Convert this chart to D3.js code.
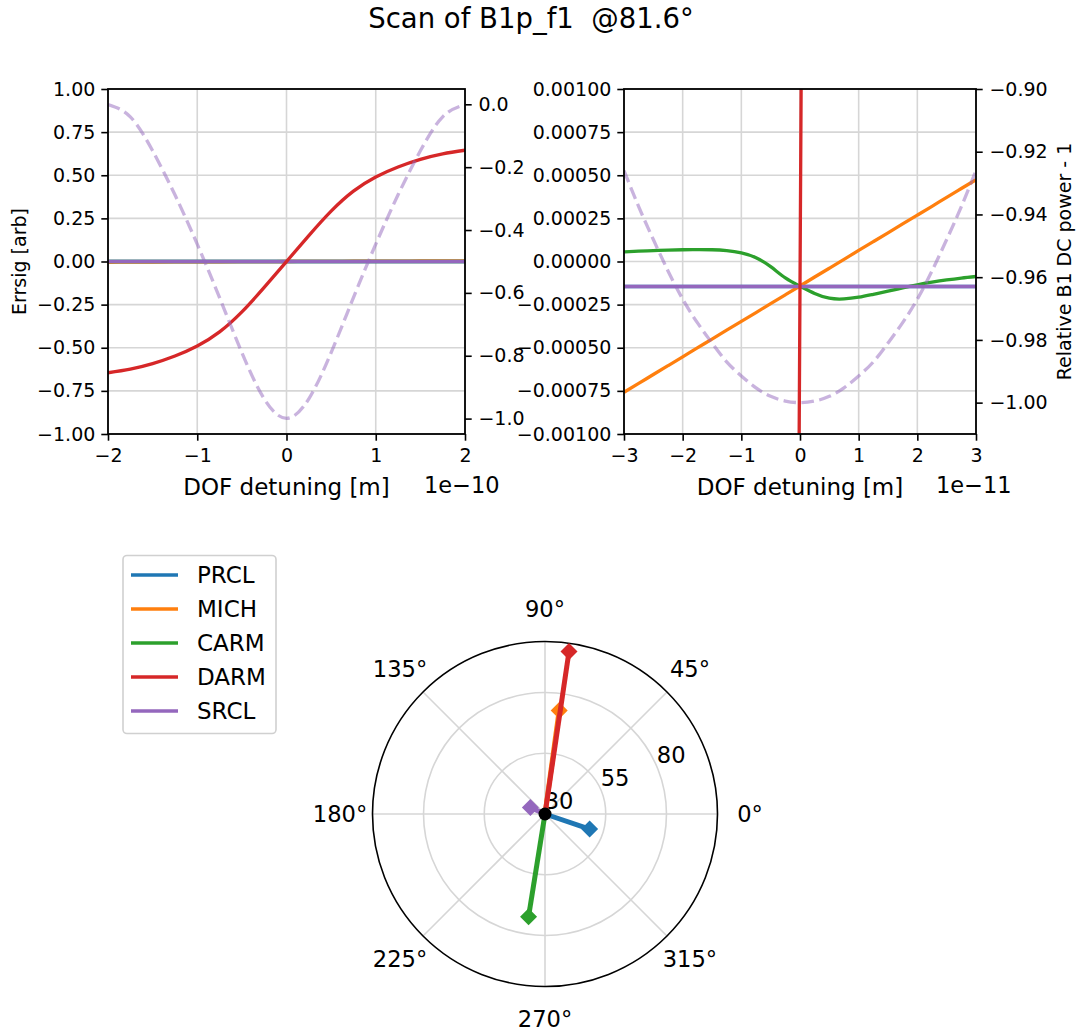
<!DOCTYPE html>
<html><head><meta charset="utf-8">
<script src="https://cdn.jsdelivr.net/npm/d3@7"></script>
<style>
body{margin:0;background:#fff}
text{font-family:"DejaVu Sans",sans-serif;fill:#000}
</style>
</head><body>
<svg id="c" width="1079" height="1032" xmlns="http://www.w3.org/2000/svg"></svg>
<script>
// ---------------- data ----------------
const titleText = "Scan of B1p_f1  @81.6°";
const dofNames = ["PRCL", "MICH", "CARM", "DARM", "SRCL"];
const dofColors = ["#1f77b4", "#ff7f0e", "#2ca02c", "#d62728", "#9467bd"];
const drawOrder = ["PRCL", "MICH", "CARM", "SRCL", "DARM"];

// left scan, x in units of 1e-10 m
const xLeft = [-2, -1.75, -1.5, -1.25, -1, -0.75, -0.5, -0.25, 0, 0.25, 0.5, 0.75, 1, 1.25, 1.5, 1.75, 2];
const prclLeft = [-0.00014, -0.00014, -0.00014, -0.00014, -0.00014, -0.00014, -0.00014, -0.00014, -0.00014, -0.00014, -0.00014, -0.00014, -0.00014, -0.00014, -0.00014, -0.00014, -0.00014];
const michLeft = [-0.0042, -0.0037, -0.0032, -0.0027, -0.0022, -0.0017, -0.0012, -0.0007, -0.0001, 0.0004, 0.0009, 0.0014, 0.0019, 0.0024, 0.0029, 0.0034, 0.0039];
const carmLeft = [0.00006, 0.00006, 0.00006, 0.00006, 0.00006, 0.00006, 0.00006, 0.00007, -0.00014, -0.00008, -0.00008, -0.00008, -0.00008, -0.00008, -0.00008, -0.00008, -0.00008];
const darmLeft = [-0.645, -0.624, -0.592, -0.548, -0.490, -0.408, -0.292, -0.150, 0.0, 0.150, 0.292, 0.408, 0.490, 0.548, 0.592, 0.624, 0.645];
const srclLeft = [-0.00014, -0.00014, -0.00014, -0.00014, -0.00014, -0.00014, -0.00014, -0.00014, -0.00014, -0.00014, -0.00014, -0.00014, -0.00014, -0.00014, -0.00014, -0.00014, -0.00014];
const powerLeft = [-0.001, -0.040, -0.148, -0.288, -0.445, -0.615, -0.790, -0.937, -0.999, -0.937, -0.790, -0.615, -0.445, -0.288, -0.148, -0.040, -0.001];

// right scan, x in units of 1e-11 m
const xRight = [-3, -2.75, -2.5, -2.25, -2, -1.75, -1.5, -1.25, -1, -0.75, -0.5, -0.25, 0, 0.25, 0.5, 0.75, 1, 1.25, 1.5, 1.75, 2, 2.25, 2.5, 2.75, 3];
const prclRight = [-0.000145, -0.000145, -0.000145, -0.000145, -0.000145, -0.000145, -0.000145, -0.000145, -0.000145, -0.000145, -0.000145, -0.000145, -0.000145, -0.000145, -0.000145, -0.000145, -0.000145, -0.000145, -0.000145, -0.000145, -0.000145, -0.000145, -0.000145, -0.000145, -0.000145];
const michRight = [-0.000758, -0.000707, -0.000655, -0.000604, -0.000553, -0.000501, -0.000450, -0.000398, -0.000347, -0.000296, -0.000244, -0.000193, -0.000142, -0.000090, -0.000039, 0.000012, 0.000064, 0.000115, 0.000166, 0.000218, 0.000269, 0.000320, 0.000372, 0.000423, 0.000474];
const carmRight = [0.000056, 0.000060, 0.000063, 0.000066, 0.000068, 0.000069, 0.000068, 0.000063, 0.000050, 0.000022, -0.000030, -0.000095, -0.000143, -0.000185, -0.000213, -0.000217, -0.000207, -0.000190, -0.000172, -0.000153, -0.000135, -0.000120, -0.000107, -0.000096, -0.000087];
const darmRight = [-0.177, -0.163, -0.148, -0.134, -0.119, -0.104, -0.089, -0.075, -0.060, -0.045, -0.030, -0.0151, -0.00014, 0.0148, 0.0297, 0.0447, 0.0597, 0.0747, 0.0887, 0.1037, 0.1187, 0.1337, 0.1477, 0.1627, 0.1767];
const srclRight = [-0.000145, -0.000145, -0.000145, -0.000145, -0.000145, -0.000145, -0.000145, -0.000145, -0.000145, -0.000145, -0.000145, -0.000145, -0.000145, -0.000145, -0.000145, -0.000145, -0.000145, -0.000145, -0.000145, -0.000145, -0.000145, -0.000145, -0.000145, -0.000145, -0.000145];
const powerRight = [-0.926, -0.9375, -0.948, -0.958, -0.967, -0.9745, -0.981, -0.987, -0.9915, -0.9953, -0.998, -0.9995, -1.000, -0.9995, -0.998, -0.9953, -0.9915, -0.987, -0.981, -0.9745, -0.967, -0.958, -0.948, -0.9375, -0.926];

// tick values
const xTicksLeft = [-2, -1, 0, 1, 2];
const yTicksLeft = [-1, -0.75, -0.5, -0.25, 0, 0.25, 0.5, 0.75, 1];
const y2TicksLeft = [-1.0, -0.8, -0.6, -0.4, -0.2, 0.0];
const xTicksRight = [-3, -2, -1, 0, 1, 2, 3];
const yTicksRight = [-0.001, -0.00075, -0.0005, -0.00025, 0, 0.00025, 0.0005, 0.00075, 0.001];
const y2TicksRight = [-1.00, -0.98, -0.96, -0.94, -0.92, -0.90];

// polar (sensing matrix)
const polarPhaseDeg = [341.3, 82.2, 260.9, 81.6, 156.0];
const polarMagnitude = [49.4, 73.0, 72.8, 97.6, 36.6];
const polarRTicks = [30, 55, 80];
const polarAngleTicks = [0, 45, 90, 135, 180, 225, 270, 315];

// ---------------- drawing ----------------
const svg = d3.select("#c");
const defs = svg.append("defs");
const GRID = "#d6d6d6";
const TICKFONT = 19;

svg.append("text").attr("x", 531).attr("y", 28).attr("text-anchor", "middle")
  .attr("font-size", 27.5).style("white-space", "pre").text(titleText);

function drawCart(o) {
  const g = svg.append("g");
  const x = d3.scaleLinear().domain(o.xDomain).range([o.x0, o.x1]);
  const y = d3.scaleLinear().domain(o.yDomain).range([o.y1, o.y0]);
  const y2 = d3.scaleLinear().domain(o.y2Domain).range([o.y1, o.y0]);

  // grid
  g.append("g").selectAll("line").data(o.xTicks).join("line")
    .attr("x1", d => x(d)).attr("x2", d => x(d)).attr("y1", o.y0).attr("y2", o.y1)
    .attr("stroke", GRID).attr("stroke-width", 1.6);
  g.append("g").selectAll("line").data(o.yTicks).join("line")
    .attr("y1", d => y(d)).attr("y2", d => y(d)).attr("x1", o.x0).attr("x2", o.x1)
    .attr("stroke", GRID).attr("stroke-width", 1.6);

  const cid = "clip" + o.id;
  defs.append("clipPath").attr("id", cid).append("rect")
    .attr("x", o.x0).attr("y", o.y0).attr("width", o.x1 - o.x0).attr("height", o.y1 - o.y0);
  const lg = g.append("g").attr("clip-path", `url(#${cid})`);

  o.order.forEach(name => {
    const i = dofNames.indexOf(name);
    const vals = o.series[name];
    const line = d3.line().x((d, k) => x(o.xs[k])).y(d => y(d)).curve(d3.curveNatural);
    lg.append("path").attr("d", line(vals)).attr("fill", "none")
      .attr("stroke", dofColors[i]).attr("stroke-width", 3.3).attr("stroke-linejoin", "round");
  });
  const pline = d3.line().x((d, k) => x(o.xs[k])).y(d => y2(d)).curve(d3.curveNatural);
  lg.append("path").attr("d", pline(o.power)).attr("fill", "none")
    .attr("stroke", "#9467bd").attr("stroke-opacity", 0.5).attr("stroke-width", 3.3)
    .attr("stroke-dasharray", "12.5,5.5");

  // spines
  g.append("rect").attr("x", o.x0).attr("y", o.y0).attr("width", o.x1 - o.x0).attr("height", o.y1 - o.y0)
    .attr("fill", "none").attr("stroke", "#000").attr("stroke-width", 1.8);

  const styleAxis = (sel) => {
    sel.select(".domain").remove();
    sel.selectAll(".tick line").attr("stroke", "#000").attr("stroke-width", 1.6);
    sel.selectAll(".tick text").attr("font-size", TICKFONT).attr("font-family", "DejaVu Sans").attr("fill", "#000");
    sel.attr("font-family", null).attr("font-size", null);
  };
  g.append("g").attr("transform", `translate(0,${o.y1})`)
    .call(d3.axisBottom(x).tickValues(o.xTicks).tickFormat(d3.format("d")).tickSize(6.7).tickPadding(8).tickSizeOuter(0))
    .call(styleAxis);
  g.append("g").attr("transform", `translate(${o.x0},0)`)
    .call(d3.axisLeft(y).tickValues(o.yTicks).tickFormat(d3.format(o.yFmt)).tickSize(6.7).tickPadding(6).tickSizeOuter(0))
    .call(styleAxis);
  g.append("g").attr("transform", `translate(${o.x1},0)`)
    .call(d3.axisRight(y2).tickValues(o.y2Ticks).tickFormat(d3.format(o.y2Fmt)).tickSize(6.7).tickPadding(6.7).tickSizeOuter(0))
    .call(styleAxis);

  g.append("text").attr("x", (o.x0 + o.x1) / 2).attr("y", 495).attr("text-anchor", "middle")
    .attr("font-size", 23).text("DOF detuning [m]");
  g.append("text").attr("x", o.offX).attr("y", 493).attr("text-anchor", "start")
    .attr("font-size", 22.5).text(o.offText);
  if (o.yLabel) {
    g.append("text").attr("transform", `translate(${o.yLabelX},${(o.y0 + o.y1) / 2}) rotate(-90)`)
      .attr("text-anchor", "middle").attr("font-size", TICKFONT).text(o.yLabel);
  }
  if (o.y2Label) {
    g.append("text").attr("transform", `translate(${o.y2LabelX},${(o.y0 + o.y1) / 2}) rotate(-90)`)
      .attr("text-anchor", "middle").attr("font-size", TICKFONT).text(o.y2Label);
  }
}

drawCart({
  id: "L", x0: 108, x1: 465, y0: 89, y1: 434,
  xDomain: [-2, 2], yDomain: [-1, 1], y2Domain: [-1.049, 0.0487],
  xs: xLeft,
  series: { PRCL: prclLeft, MICH: michLeft, CARM: carmLeft, DARM: darmLeft, SRCL: srclLeft },
  power: powerLeft, order: drawOrder,
  xTicks: xTicksLeft, yTicks: yTicksLeft, y2Ticks: y2TicksLeft,
  yFmt: ".2f", y2Fmt: ".1f",
  offText: "1e\u221210", offX: 424,
  yLabel: "Errsig [arb]", yLabelX: 26
});
drawCart({
  id: "R", x0: 624, x1: 976, y0: 89, y1: 434,
  xDomain: [-3, 3], yDomain: [-0.001, 0.001], y2Domain: [-1.01, -0.90],
  xs: xRight,
  series: { PRCL: prclRight, MICH: michRight, CARM: carmRight, DARM: darmRight, SRCL: srclRight },
  power: powerRight, order: drawOrder,
  xTicks: xTicksRight, yTicks: yTicksRight, y2Ticks: y2TicksRight,
  yFmt: ".5f", y2Fmt: ".2f",
  offText: "1e\u221211", offX: 936,
  y2Label: "Relative B1 DC power - 1", y2LabelX: 1071
});

// ---------------- polar ----------------
const cx = 545, cy = 814, R = 172.5;
const rScale = d3.scaleLinear().domain([30, 101]).range([0, R]);
const pg = svg.append("g");
const toXY = (deg, r) => [cx + rScale(r) * Math.cos(deg * Math.PI / 180), cy - rScale(r) * Math.sin(deg * Math.PI / 180)];

pg.selectAll("circle.ring").data(polarRTicks.filter(r => rScale(r) > 0.5)).join("circle")
  .attr("cx", cx).attr("cy", cy).attr("r", d => rScale(d))
  .attr("fill", "none").attr("stroke", GRID).attr("stroke-width", 1.6);
pg.selectAll("line.spoke").data(polarAngleTicks).join("line")
  .attr("x1", cx).attr("y1", cy)
  .attr("x2", d => cx + R * Math.cos(d * Math.PI / 180))
  .attr("y2", d => cy - R * Math.sin(d * Math.PI / 180))
  .attr("stroke", GRID).attr("stroke-width", 1.6);
pg.append("circle").attr("cx", cx).attr("cy", cy).attr("r", R)
  .attr("fill", "none").attr("stroke", "#000").attr("stroke-width", 1.6);

pg.selectAll("text.ang").data(polarAngleTicks).join("text")
  .attr("x", d => cx + 205 * Math.cos(d * Math.PI / 180))
  .attr("y", d => cy - 205 * Math.sin(d * Math.PI / 180))
  .attr("dy", "0.36em").attr("text-anchor", "middle").attr("font-size", 22.6)
  .text(d => d + "°");

pg.selectAll("text.rt").data(polarRTicks).join("text")
  .attr("x", d => cx + rScale(d) * Math.cos(22.5 * Math.PI / 180) + 14)
  .attr("y", d => cy - rScale(d) * Math.sin(22.5 * Math.PI / 180) - 13)
  .attr("dy", "0.36em").attr("text-anchor", "middle").attr("font-size", 22.6)
  .text(d => d);

const diamond = (s) => `M0,${-s}L${s},0L0,${s}L${-s},0Z`;
dofNames.forEach((name, i) => {
  const [px, py] = toXY(polarPhaseDeg[i], polarMagnitude[i]);
  pg.append("line").attr("x1", cx).attr("y1", cy).attr("x2", px).attr("y2", py)
    .attr("stroke", dofColors[i]).attr("stroke-width", 5);
  pg.append("path").attr("d", diamond(8.5)).attr("transform", `translate(${px},${py})`)
    .attr("fill", dofColors[i]);
});
pg.append("circle").attr("cx", cx).attr("cy", cy).attr("r", 6.5).attr("fill", "#000");

// ---------------- legend ----------------
const leg = svg.append("g");
leg.append("rect").attr("x", 123).attr("y", 555.5).attr("width", 153).attr("height", 178).attr("rx", 4)
  .attr("fill", "#fff").attr("stroke", "#d0d0d0").attr("stroke-width", 1.6);
dofNames.forEach((name, i) => {
  const yy = 575 + i * 34;
  leg.append("line").attr("x1", 131).attr("x2", 178).attr("y1", yy).attr("y2", yy)
    .attr("stroke", dofColors[i]).attr("stroke-width", 3.3);
  leg.append("text").attr("x", 197).attr("y", yy).attr("dy", "0.36em").attr("font-size", 23).text(name);
});
</script>
</body></html>
